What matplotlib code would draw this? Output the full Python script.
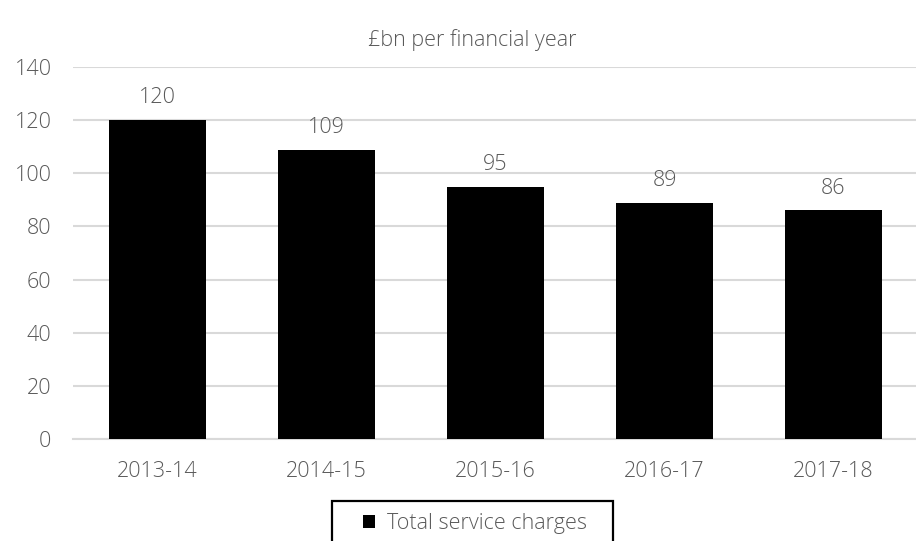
import matplotlib
matplotlib.use("Agg")
import matplotlib.pyplot as plt
from matplotlib.patches import Patch, Rectangle

categories = ["2013-14", "2014-15", "2015-16", "2016-17", "2017-18"]
values = [120, 108.6, 95, 89, 86]
value_labels = ["120", "109", "95", "89", "86"]
yticks = [0, 20, 40, 60, 80, 100, 120, 140]
title = "£bn per financial year"
series_name = "Total service charges"

plt.rcParams['font.family'] = ['Open Sans', 'DejaVu Sans']
plt.rcParams['font.weight'] = 'light'
TXT = "#595959"
FS = 15.5

W, H = 916, 541
fig = plt.figure(figsize=(W / 100, H / 100), dpi=100)
ax = fig.add_axes([73 / W, (H - 439) / H, 845 / W, 372 / H])

x = list(range(len(categories)))
ax.bar(x, values, width=0.575, color="black", zorder=3)
ax.set_xlim(-0.5, len(categories) - 0.5)
ax.set_ylim(0, 140)
ax.set_yticks(yticks)
ax.set_xticks(x)
ax.set_xticklabels(categories)
ax.grid(axis="y", color="#d9d9d9", linewidth=1.5, zorder=0)
ax.set_axisbelow(True)
for s in ["top", "right", "left"]:
    ax.spines[s].set_visible(False)
ax.spines["bottom"].set_color("#d9d9d9")
ax.spines["bottom"].set_linewidth(1.5)
ax.tick_params(axis="both", length=0, labelsize=FS, colors=TXT)
ax.tick_params(axis="y", pad=15.5)
ax.tick_params(axis="x", pad=16)

for xi, v, lab in zip(x, values, value_labels):
    ax.annotate(lab, (xi, v), xytext=(0, 12.2), textcoords="offset points",
                ha="center", va="baseline", fontsize=FS, color=TXT)

fig.text(472 / W, 1 - 40 / H, title, ha="center", va="center", fontsize=FS, color=TXT)

# legend frame (partly cut off by the bottom edge, as in the reference)
fig.patches.append(Rectangle((332 / W, -8 / H), 281 / W, (H - 501 + 8) / H,
                             transform=fig.transFigure, facecolor="white",
                             edgecolor="black", linewidth=1.6, zorder=5))
leg = fig.legend(handles=[Patch(facecolor="black", label=series_name)],
                 loc="center left", bbox_to_anchor=(363 / W, 1 - 524 / H),
                 frameon=False, fontsize=FS, labelcolor=TXT,
                 handlelength=0.55, handleheight=0.55, handletextpad=0.55,
                 borderpad=0, borderaxespad=0)
leg.set_zorder(6)

fig.savefig("out.png", dpi=100)
